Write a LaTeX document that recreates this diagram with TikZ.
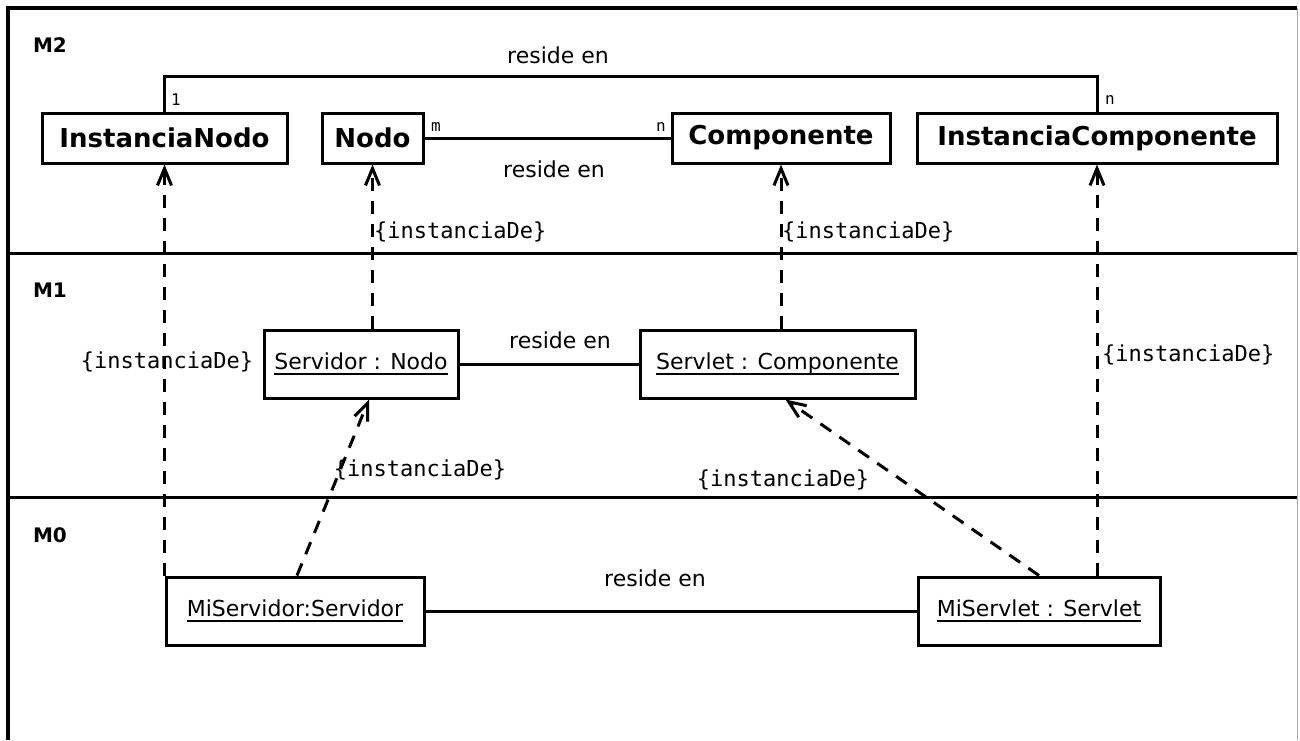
\documentclass[tikz,border=0pt]{standalone}
\usepackage{fontspec}
\setmainfont{DejaVu Sans}
\newfontfamily\monofont{DejaVu Sans Mono}
\usetikzlibrary{arrows.meta,calc}

% underlined object name (UML instance notation)
\newsavebox\objbox
\newcommand\objtext[1]{\sbox\objbox{#1}\rlap{\rule[-5pt]{\wd\objbox}{1.5pt}}\usebox\objbox}

\begin{document}
\begin{tikzpicture}[x=1pt,y=-1pt,
  cls/.style={draw, line width=3pt, font=\fontsize{26}{30}\selectfont\bfseries,
    minimum height=50pt, inner sep=0pt},
  obj/.style={draw, line width=3pt, font=\fontsize{22}{26}\selectfont,
    minimum height=68pt, inner sep=0pt},
  lbl/.style={font=\fontsize{22}{26}\selectfont, inner sep=0pt},
  stereo/.style={font=\monofont\fontsize{22}{26}\selectfont, inner sep=0pt},
  mult/.style={font=\monofont\fontsize{16}{18}\selectfont, inner sep=0pt},
  layer/.style={font=\fontsize{20}{24}\selectfont\bfseries, inner sep=0pt},
  assoc/.style={line width=3pt},
  sep/.style={line width=3pt},
  dep/.style={line width=3pt, dash pattern=on 13pt off 10pt,
    -{Straight Barb[length=17pt,width=14pt]}}
]
\useasboundingbox (0,0) rectangle (1300,740);
\fill[white] (0,0) rectangle (1300,740);

% outer frame and layer separators
\draw[line width=4pt] (8,740) -- (8,8) -- (1297,8);
\draw[black!35, line width=1pt] (1297,8) -- (1297,740);
\draw[sep] (8,253) -- (1297,253);
\draw[sep] (8,497) -- (1297,497);

% layer names
\node[layer] (M2) at (50,45) {M2};
\node[layer] (M1) at (50,290) {M1};
\node[layer] (M0) at (50,535) {M0};

% M2: metaclasses
\node[cls, minimum width=245pt] (InstanciaNodo) at (164.5,138) {InstanciaNodo};
\node[cls, minimum width=101pt] (Nodo) at (372.5,138) {Nodo};
\node[cls, minimum width=218pt] (Componente) at (781,138) {Componente};
\node[cls, minimum width=360pt] (InstanciaComponente) at (1097,138) {InstanciaComponente};

% M1: model elements
\node[obj, minimum width=194pt] (Servidor) at (361,364) {\objtext{Servidor : Nodo}};
\node[obj, minimum width=275pt] (Servlet) at (777.5,364) {\objtext{Servlet : Componente}};

% M0: runtime instances
\node[obj, minimum width=258pt] (MiServidor) at (295,611) {\objtext{MiServidor:Servidor}};
\node[obj, minimum width=242pt] (MiServlet) at (1039,611) {\objtext{MiServlet : Servlet}};

% associations
\draw[assoc] (InstanciaNodo.north) -- ++(0,-35) -| (InstanciaComponente.north);
\draw[assoc] (Nodo.east) -- (Componente.west);
\draw[assoc] (Servidor.east) -- (Servlet.west);
\draw[assoc] (MiServidor.east) -- (MiServlet.west);

\node[lbl] (r1) at (558,55) {reside en};
\node[lbl] (r2) at (554,169) {reside en};
\node[lbl] (r3) at (560,340) {reside en};
\node[lbl] (r4) at (655,578) {reside en};

\node[mult, anchor=west] (m1) at (171,100) {1};
\node[mult, anchor=west] (m2) at (1105,100) {n};
\node[mult, anchor=west] (m3) at (431,127) {m};
\node[mult, anchor=east] (m4) at (666,127) {n};

% instantiation dependencies
\draw[dep] (MiServidor.north west) -- (MiServidor.north west |- InstanciaNodo.south);
\draw[dep] (Nodo.south |- Servidor.north) -- (Nodo.south);
\draw[dep] (Componente.south |- Servlet.north) -- (Componente.south);
\draw[dep] (InstanciaComponente.south |- MiServlet.north) -- (InstanciaComponente.south);
\coordinate (srvFrom) at ([xshift=2pt]MiServidor.north);
\coordinate (srvTo) at ([xshift=8pt]Servidor.south);
\draw[dep] (srvFrom) -- (srvTo);
\coordinate (sltFrom) at (MiServlet.north);
\coordinate (sltTo) at ([xshift=8pt]Servlet.south);
\draw[dep] (sltFrom) -- (sltTo);

\node[stereo, anchor=west] (d1) at (374,232) {\{instanciaDe\}};
\node[stereo, anchor=west] (d2) at (782,232) {\{instanciaDe\}};
\node[stereo] (d3) at (167,362) {\{instanciaDe\}};
\node[stereo, anchor=west] (d4) at (1102,355) {\{instanciaDe\}};
\node[stereo] (d5) at (420,470) {\{instanciaDe\}};
\node[stereo] (d6) at (783,480) {\{instanciaDe\}};
\end{tikzpicture}
\end{document}
